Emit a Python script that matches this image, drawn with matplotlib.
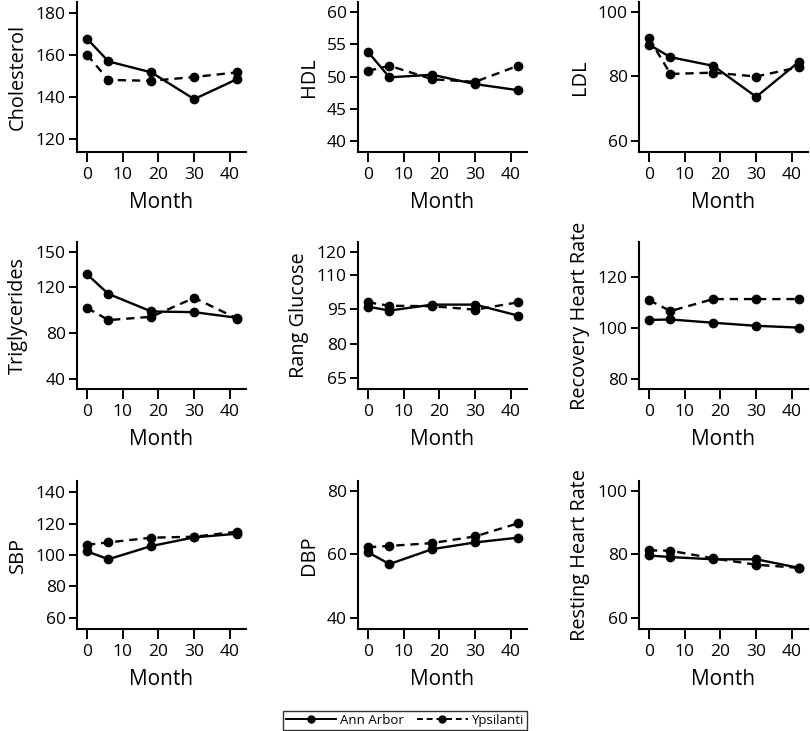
import matplotlib
matplotlib.use("Agg")
import matplotlib.pyplot as plt
from matplotlib.lines import Line2D

plt.rcParams['font.family'] = ['Open Sans', 'DejaVu Sans']

months = [0, 6, 18, 30, 42]
x_ticks = [0, 10, 20, 30, 40]

titles = ["Cholesterol", "HDL", "LDL", "Triglycerides", "Rang Glucose",
          "Recovery Heart Rate", "SBP", "DBP", "Resting Heart Rate"]

ann_arbor = [
    [167.6, 156.8, 151.6, 138.9, 148.4],
    [53.85, 49.9, 50.3, 48.85, 47.9],
    [89.8, 85.9, 83.2, 73.6, 84.5],
    [130.7, 113.7, 98.5, 97.9, 93.0],
    [96.1, 94.4, 97.0, 97.0, 92.2],
    [103.1, 103.3, 102.0, 100.8, 100.1],
    [102.3, 97.3, 105.7, 111.2, 113.5],
    [60.6, 56.9, 61.6, 63.7, 65.2],
    [79.6, 79.1, 78.4, 78.4, 75.7],
]
ypsilanti = [
    [160.0, 148.0, 147.6, 149.4, 151.6],
    [50.9, 51.7, 49.6, 49.2, 51.7],
    [91.8, 80.7, 81.1, 79.9, 82.8],
    [101.6, 91.0, 93.9, 110.3, 92.4],
    [98.0, 96.5, 96.3, 94.8, 98.0],
    [110.9, 106.6, 111.3, 111.3, 111.3],
    [106.5, 108.0, 111.0, 111.6, 114.8],
    [62.2, 62.6, 63.5, 65.6, 69.7],
    [81.2, 81.1, 78.7, 76.7, 75.7],
]
y_ticks = [
    [120, 140, 160, 180],
    [40, 45, 50, 55, 60],
    [60, 80, 100],
    [40, 80, 120, 150],
    [65, 80, 95, 110, 120],
    [80, 100, 120],
    [60, 80, 100, 120, 140],
    [40, 60, 80],
    [60, 80, 100],
]
y_limits = [
    (113.8, 185.0), (38.3, 61.6), (56.5, 103.0),
    (31.3, 158.7), (60.2, 124.3), (76.0, 133.7),
    (53.0, 147.0), (36.5, 83.0), (56.5, 103.0),
]

fig = plt.figure(figsize=(8.1, 7.31), dpi=100)
W, H = 810.0, 731.0
col_left = [77, 358, 639]
col_w = 169
row_top = [2, 242, 481]
row_bot = [152, 389, 629]

for i in range(9):
    r, c = divmod(i, 3)
    ax = fig.add_axes([col_left[c] / W, 1 - row_bot[r] / H, col_w / W,
                       (row_bot[r] - row_top[r]) / H])
    ax.plot(months, ann_arbor[i], color='black', lw=1.7, ls='-',
            marker='o', ms=6)
    ax.plot(months, ypsilanti[i], color='black', lw=1.7, ls=(0, (3.5, 2.5)),
            marker='o', ms=6)
    ax.set_xlim(-2.8, 44.5)
    ax.set_ylim(*y_limits[i])
    ax.set_xticks(x_ticks)
    ax.set_yticks(y_ticks[i])
    for s in ['top', 'right']:
        ax.spines[s].set_visible(False)
    for s in ['left', 'bottom']:
        ax.spines[s].set_linewidth(1.5)
    ax.tick_params(axis='x', direction='out', length=7.5, width=1.4,
                   labelsize=12.5, pad=3.5)
    ax.tick_params(axis='y', direction='out', length=6, width=1.4,
                   labelsize=12.5, pad=2)
    ax.set_xlabel("Month", fontsize=15, labelpad=6.5)
    ax.set_ylabel(titles[i], fontsize=14.3, labelpad=6)

handles = [
    Line2D([0], [0], color='black', lw=1.4, ls='-', marker='o', ms=5),
    Line2D([0], [0], color='black', lw=1.4, ls=(0, (3, 2)), marker='o', ms=5),
]
leg = fig.legend(handles, ["Ann Arbor", "Ypsilanti"], loc='center',
                 bbox_to_anchor=(0.5, 0.0144), ncol=2, fontsize=9.5,
                 frameon=True, fancybox=False, edgecolor='black',
                 handlelength=3.8, columnspacing=1.0, handletextpad=0.3,
                 borderpad=0.25, borderaxespad=0)
leg.get_frame().set_linewidth(1.0)

fig.savefig("out.png", dpi=100)
